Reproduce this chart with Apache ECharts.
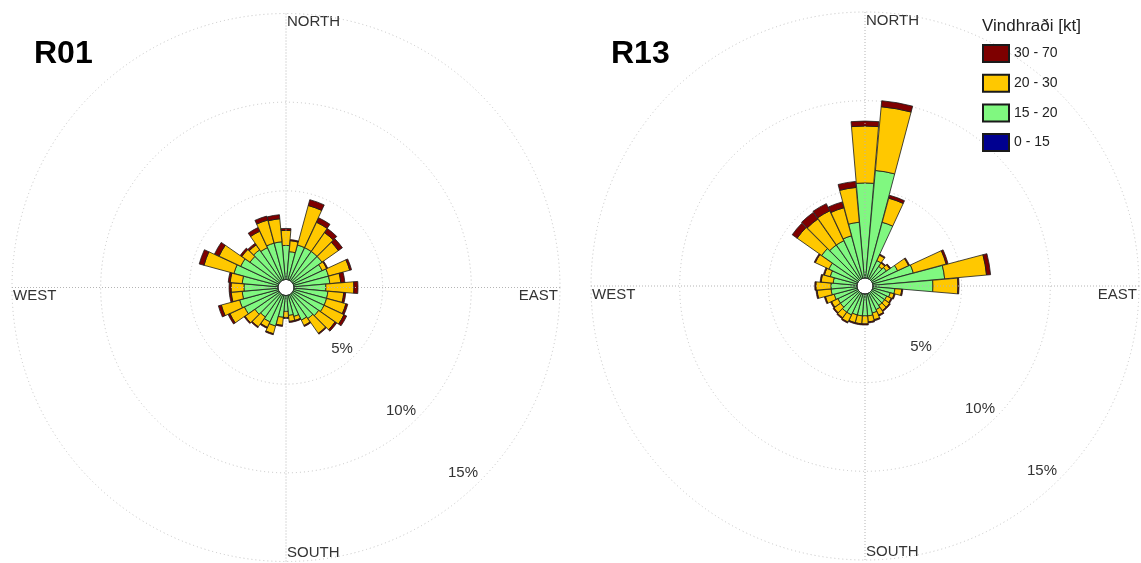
<!DOCTYPE html>
<html><head><meta charset="utf-8">
<script src="https://cdn.jsdelivr.net/npm/echarts@6/dist/echarts.min.js"></script>
<style>html,body{margin:0;padding:0;background:#fff}#c{width:1141px;height:563px}</style>
</head><body><div id="c"></div>
<script>
// Direction sectors (degrees, clockwise from North)
const directions = ['0','10','20','30','40','50','60','70','80','90','100','110','120','130','140','150','160','170',
  '180','190','200','210','220','230','240','250','260','270','280','290','300','310','320','330','340','350'];
const speedClasses = ['30 - 70', '20 - 30', '15 - 20', '0 - 15'];
const ringTicks = ['5%', '10%', '15%'];

// R01 frequencies (%) per speed class
const r01_0_15  = [0,0,0,0,0,0,0,0,0,0,0,0,0,0,0,0,0,0,0,0,0,0,0,0,0,0,0,0,0,0,0,0,0,0,0,0];
const r01_15_20 = [1.92,1.58,2.03,2.03,2.03,2.03,1.80,2.03,2.03,1.80,1.92,1.92,1.92,1.80,1.69,1.58,1.24,1.13,
  0.90,1.24,1.80,1.69,1.58,1.69,2.14,2.26,2.03,1.92,2.03,2.59,2.37,2.03,2.14,2.03,2.14,2.14];
const r01_20_30 = [0.85,0.62,2.31,1.58,1.30,1.13,0.28,1.24,0.62,1.58,0.90,1.13,1.24,1.13,1.02,0.34,0.23,0.34,
  0.34,0.45,0.45,0.34,0.68,0.68,0.90,1.07,0.62,0.73,0.68,1.75,1.35,0.56,0.34,1.02,1.35,1.30];
const r01_30_70 = [0.11,0.06,0.34,0.28,0.28,0.28,0.06,0.11,0.23,0.23,0.11,0.11,0.17,0.11,0.06,0.06,0.06,0.06,
  0.06,0.06,0.06,0.06,0.06,0.06,0.11,0.17,0.11,0.11,0.11,0.28,0.28,0.11,0.11,0.23,0.23,0.23];

// R13 frequencies (%) per speed class
const r13_0_15  = [0,0,0,0,0,0,0,0,0,0,0,0,0,0,0,0,0,0,0,0,0,0,0,0,0,0,0,0,0,0,0,0,0,0,0,0];
const r13_15_20 = [5.36,6.09,3.27,1.13,0.90,1.02,1.58,2.37,4.06,3.38,1.24,1.02,0.90,0.90,0.90,1.02,1.13,1.24,
  1.24,1.24,1.24,1.35,1.35,1.24,1.24,1.35,1.47,1.47,1.35,1.58,1.80,2.54,2.37,2.37,2.48,3.16];
const r13_20_30 = [3.21,3.61,1.41,0.34,0.23,0.23,0.68,1.92,2.37,1.41,0.39,0.23,0.28,0.34,0.34,0.34,0.39,0.34,
  0.45,0.45,0.45,0.45,0.39,0.45,0.39,0.51,0.79,0.85,0.68,0.34,0.85,1.69,1.80,1.86,1.64,1.97];
const r13_30_70 = [0.28,0.34,0.17,0.06,0.06,0.06,0.06,0.11,0.23,0.06,0.06,0.06,0.06,0.06,0.06,0.06,0.06,0.06,
  0.06,0.06,0.06,0.06,0.06,0.06,0.06,0.06,0.06,0.06,0.06,0.06,0.06,0.34,0.45,0.45,0.34,0.34];

const FONT = "'Liberation Sans', Arial, Helvetica, sans-serif";
const colors = {'0 - 15':'#000090','15 - 20':'#80F880','20 - 30':'#FFC800','30 - 70':'#7E0000'};
const C1 = [286, 287.5], C2 = [865, 286];
const R_IN = 8, R_OUT = 274;

const chart = echarts.init(document.getElementById('c'), null, {renderer:'canvas'});

function polarPair(c){ return [{center:c, radius:[R_IN,R_OUT]}, {center:c, radius:[R_IN,R_OUT]}]; }
function angleAxes(bi, gi){
  return [
    {polarIndex:bi, type:'category', data:directions, startAngle:95, clockwise:true, boundaryGap:true,
     axisLine:{show:false}, axisTick:{show:false}, axisLabel:{show:false}, splitLine:{show:false}},
    {polarIndex:gi, type:'value', min:0, max:360, interval:90, startAngle:90, clockwise:true, z:3,
     axisLine:{show:false}, axisTick:{show:false}, axisLabel:{show:false},
     splitLine:{show:true, lineStyle:{color:'#b4b4b4', type:[1,2], width:1}}}
  ];
}
function radiusAxes(bi, gi){
  return [
    {polarIndex:bi, type:'value', min:0, max:15, interval:5, axisLine:{show:false}, axisTick:{show:false},
     axisLabel:{show:false}, splitLine:{show:false}},
    {polarIndex:gi, type:'value', min:0, max:15, interval:5, z:1, axisLine:{show:false}, axisTick:{show:false},
     axisLabel:{show:false}, splitLine:{show:true, lineStyle:{color:'#c4c4c4', type:[1,3], width:1}}}
  ];
}
function barSeries(pi, stack, arrays){
  const names = ['0 - 15','15 - 20','20 - 30','30 - 70'];
  return names.map((n, i) => ({
    type:'bar', coordinateSystem:'polar', polarIndex:pi, stack:stack, name:n, data:arrays[i],
    barCategoryGap:'3%', z:2,
    itemStyle:{color:colors[n], borderColor:'#1a1a1a', borderWidth:0.8},
    emphasis:{disabled:true}
  }));
}

function cardinal(c){
  const st = {font:'15px ' + FONT, fill:'#333'};
  return [
    {type:'text', x:c[0]+1, y:c[1]-R_OUT+1, style:Object.assign({text:'NORTH', align:'left', verticalAlign:'top'}, st)},
    {type:'text', x:c[0]+1, y:c[1]+R_OUT-1, style:Object.assign({text:'SOUTH', align:'left', verticalAlign:'bottom'}, st)},
    {type:'text', x:c[0]+R_OUT-2, y:c[1]+1, style:Object.assign({text:'EAST', align:'right', verticalAlign:'top'}, st)},
    {type:'text', x:c[0]-R_OUT+1, y:c[1]+1, style:Object.assign({text:'WEST', align:'left', verticalAlign:'top'}, st)},
    {type:'text', x:c[0]+56, y:c[1]+61, style:Object.assign({text:ringTicks[0], align:'center', verticalAlign:'middle'}, st)},
    {type:'text', x:c[0]+115, y:c[1]+123, style:Object.assign({text:ringTicks[1], align:'center', verticalAlign:'middle'}, st)},
    {type:'text', x:c[0]+177, y:c[1]+185, style:Object.assign({text:ringTicks[2], align:'center', verticalAlign:'middle'}, st)}
  ];
}

const option = {
  animation:false,
  backgroundColor:'#fff',
  title:[
    {text:'R01', left:34, top:38, padding:0, textStyle:{fontSize:32, fontWeight:'bold', color:'#000', fontFamily:FONT}},
    {text:'R13', left:611, top:38, padding:0, textStyle:{fontSize:32, fontWeight:'bold', color:'#000', fontFamily:FONT}},
    {text:'Vindhraði [kt]', left:982, top:18, padding:0, textStyle:{fontSize:17, fontWeight:'normal', color:'#222', fontFamily:FONT}}
  ],
  legend:{
    data:speedClasses, orient:'vertical', left:982, top:44, padding:0,
    itemWidth:26, itemHeight:17, itemGap:10.7, icon:'rect', selectedMode:false,
    textStyle:{fontSize:14, color:'#222', fontFamily:FONT}
  },
  polar:[...polarPair(C1), ...polarPair(C2)],
  angleAxis:[...angleAxes(0,1), ...angleAxes(2,3)],
  radiusAxis:[...radiusAxes(0,1), ...radiusAxes(2,3)],
  series:[
    ...barSeries(0, 'r01', [r01_0_15, r01_15_20, r01_20_30, r01_30_70]),
    ...barSeries(2, 'r13', [r13_0_15, r13_15_20, r13_20_30, r13_30_70])
  ],
  graphic:[...cardinal(C1), ...cardinal(C2)]
};
chart.setOption(option);
</script>
</body></html>
